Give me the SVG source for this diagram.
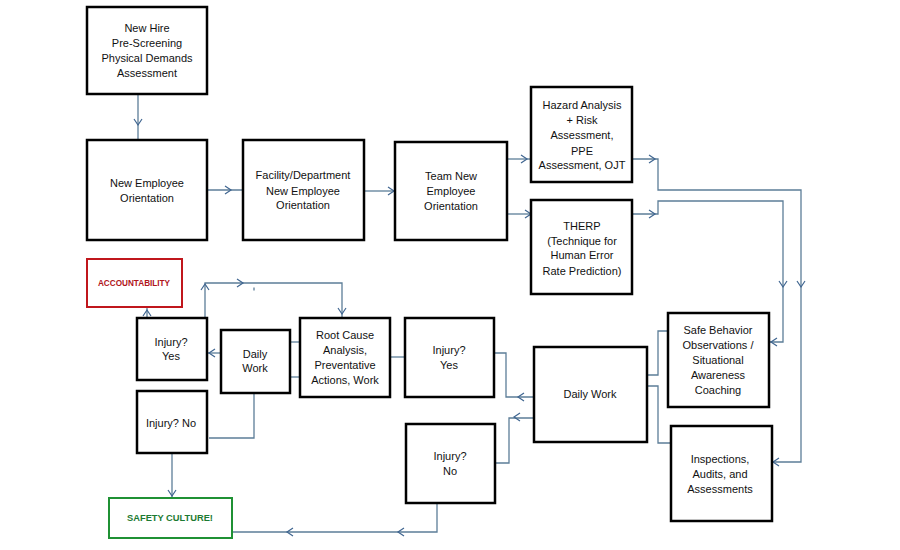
<svg xmlns="http://www.w3.org/2000/svg" xmlns:xlink="http://www.w3.org/1999/xlink" width="900" height="550" viewBox="0 0 900 550">
<style>
  .box { fill: #ffffff; stroke: #000000; stroke-width: 2.5; }
  .red { fill: #ffffff; stroke: #c0161c; stroke-width: 2; }
  .green { fill: #ffffff; stroke: #1f9134; stroke-width: 2; }
  text { font-family: "Liberation Sans", Arial, sans-serif; font-size: 11px; fill: #111111; text-anchor: middle; }
  .rt { font-size: 8.2px; font-weight: bold; fill: #b0141a; }
  .gt { font-size: 9.3px; font-weight: bold; fill: #1c7a32; }
  .ln { fill: none; stroke: #5c7d98; stroke-width: 1.3; }
  .ch { fill: none; stroke: #3f6590; stroke-width: 1.2; }
</style>
<defs>
  <path id="chev" d="M-6,-4 L0,0 L-6,4"/>
</defs>
<rect width="900" height="550" fill="#ffffff"/>

<g id="connectors">
  <path class="ln" d="M138,94 V140"/>
  <use href="#chev" class="ch" transform="translate(138,125) rotate(90)"/>
  <path class="ln" d="M207,190 H243"/>
  <use href="#chev" class="ch" transform="translate(231,190)"/>
  <path class="ln" d="M364,191 H395"/>
  <use href="#chev" class="ch" transform="translate(394,191)"/>
  <path class="ln" d="M507,159 H531"/>
  <use href="#chev" class="ch" transform="translate(527,159)"/>
  <path class="ln" d="M507,214 H531"/>
  <use href="#chev" class="ch" transform="translate(531,214)"/>
  <path class="ln" d="M632,159 H658 V190 H801 V462 H772"/>
  <use href="#chev" class="ch" transform="translate(655,159)"/>
  <use href="#chev" class="ch" transform="translate(801,287) rotate(90)"/>
  <use href="#chev" class="ch" transform="translate(773,462) rotate(180)"/>
  <path class="ln" d="M632,214 H658 V201 H783 V342 H769"/>
  <use href="#chev" class="ch" transform="translate(655,214)"/>
  <use href="#chev" class="ch" transform="translate(783,287) rotate(90)"/>
  <use href="#chev" class="ch" transform="translate(771,342) rotate(180)"/>
  <path class="ln" d="M647,375 H658 V331 H668"/>
  <path class="ln" d="M647,386 H658 V443 H671"/>
  <path class="ln" d="M536,397 H506 V353 H494"/>
  <use href="#chev" class="ch" transform="translate(518,397) rotate(180)"/>
  <path class="ln" d="M534,418 H509 V463 H495"/>
  <use href="#chev" class="ch" transform="translate(514,417) rotate(180)"/>
  <path class="ln" d="M405,357 H390"/>
  <path class="ln" d="M437,503 V532 H232"/>
  <use href="#chev" class="ch" transform="translate(398,532) rotate(180)"/>
  <use href="#chev" class="ch" transform="translate(287,532) rotate(180)"/>
  <path class="ln" d="M290,342 H300"/>
  <path class="ln" d="M290,377 H300"/>
  <path class="ln" d="M221,353 H207"/>
  <use href="#chev" class="ch" transform="translate(209,353) rotate(180)"/>
  <path class="ln" d="M147,318 V307"/>
  <use href="#chev" class="ch" transform="translate(147,310) rotate(-90)"/>
  <path class="ln" d="M205,318 V283 H342 V318"/>
  <use href="#chev" class="ch" transform="translate(205,284) rotate(-90)"/>
  <use href="#chev" class="ch" transform="translate(243,283)"/>
  <use href="#chev" class="ch" transform="translate(342,314) rotate(90)"/>
  <path class="ln" d="M254,287.5 V290.5" stroke-width="1"/>
  <path class="ln" d="M254,393 V438 H209"/>
  <path class="ln" d="M172,453 V498"/>
  <use href="#chev" class="ch" transform="translate(172,496) rotate(90)"/>
</g>

<g id="new-hire">
  <rect class="box" x="87" y="7" width="120" height="87"/>
  <text x="147" y="32">New Hire</text>
  <text x="147" y="47">Pre-Screening</text>
  <text x="147" y="62">Physical Demands</text>
  <text x="147" y="77">Assessment</text>
</g>
<g id="new-employee-orientation">
  <rect class="box" x="87" y="140" width="120" height="100"/>
  <text x="147" y="187">New Employee</text>
  <text x="147" y="202">Orientation</text>
</g>
<g id="facility-orientation">
  <rect class="box" x="243" y="140" width="121" height="100"/>
  <text x="303" y="179">Facility/Department</text>
  <text x="303" y="195">New Employee</text>
  <text x="303" y="209">Orientation</text>
</g>
<g id="team-orientation">
  <rect class="box" x="395" y="142" width="112" height="98"/>
  <text x="451" y="180">Team New</text>
  <text x="451" y="195">Employee</text>
  <text x="451" y="210">Orientation</text>
</g>
<g id="hazard-analysis">
  <rect class="box" x="531" y="87" width="101" height="95"/>
  <text x="582" y="109">Hazard Analysis</text>
  <text x="582" y="124">+ Risk</text>
  <text x="582" y="139">Assessment,</text>
  <text x="582" y="155">PPE</text>
  <text x="582" y="169">Assessment, OJT</text>
</g>
<g id="therp">
  <rect class="box" x="531" y="200" width="101" height="94"/>
  <text x="582" y="230">THERP</text>
  <text x="582" y="245">(Technique for</text>
  <text x="582" y="259">Human Error</text>
  <text x="582" y="275">Rate Prediction)</text>
</g>
<g id="safe-behavior">
  <rect class="box" x="668" y="313" width="101" height="94"/>
  <text x="718" y="334">Safe Behavior</text>
  <text x="718" y="349">Observations /</text>
  <text x="718" y="364">Situational</text>
  <text x="718" y="379">Awareness</text>
  <text x="718" y="394">Coaching</text>
</g>
<g id="inspections">
  <rect class="box" x="671" y="426" width="101" height="95"/>
  <text x="720" y="463">Inspections,</text>
  <text x="720" y="478">Audits, and</text>
  <text x="720" y="493">Assessments</text>
</g>
<g id="daily-work-main">
  <rect class="box" x="534" y="347" width="113" height="95"/>
  <text x="590" y="398">Daily Work</text>
</g>
<g id="injury-yes-main">
  <rect class="box" x="405" y="318" width="89" height="79"/>
  <text x="449" y="354">Injury?</text>
  <text x="449" y="369">Yes</text>
</g>
<g id="injury-no-main">
  <rect class="box" x="406" y="424" width="89" height="79"/>
  <text x="450" y="460">Injury?</text>
  <text x="450" y="475">No</text>
</g>
<g id="root-cause">
  <rect class="box" x="300" y="318" width="90" height="79"/>
  <text x="345" y="339">Root Cause</text>
  <text x="345" y="354">Analysis,</text>
  <text x="345" y="369">Preventative</text>
  <text x="345" y="384">Actions, Work</text>
</g>
<g id="daily-work-left">
  <rect class="box" x="221" y="330" width="69" height="63"/>
  <text x="255" y="358">Daily</text>
  <text x="255" y="372">Work</text>
</g>
<g id="injury-yes-left">
  <rect class="box" x="137" y="318" width="70" height="62"/>
  <text x="171" y="346">Injury?</text>
  <text x="171" y="360">Yes</text>
</g>
<g id="injury-no-left">
  <rect class="box" x="137" y="391" width="70" height="62"/>
  <text x="171" y="427">Injury? No</text>
</g>
<g id="accountability">
  <rect class="red" x="87" y="259" width="95" height="48"/>
  <text class="rt" x="134" y="286">ACCOUNTABILITY</text>
</g>
<g id="safety-culture">
  <rect class="green" x="109" y="498" width="123" height="40"/>
  <text class="gt" x="170" y="521">SAFETY CULTURE!</text>
</g>
</svg>
